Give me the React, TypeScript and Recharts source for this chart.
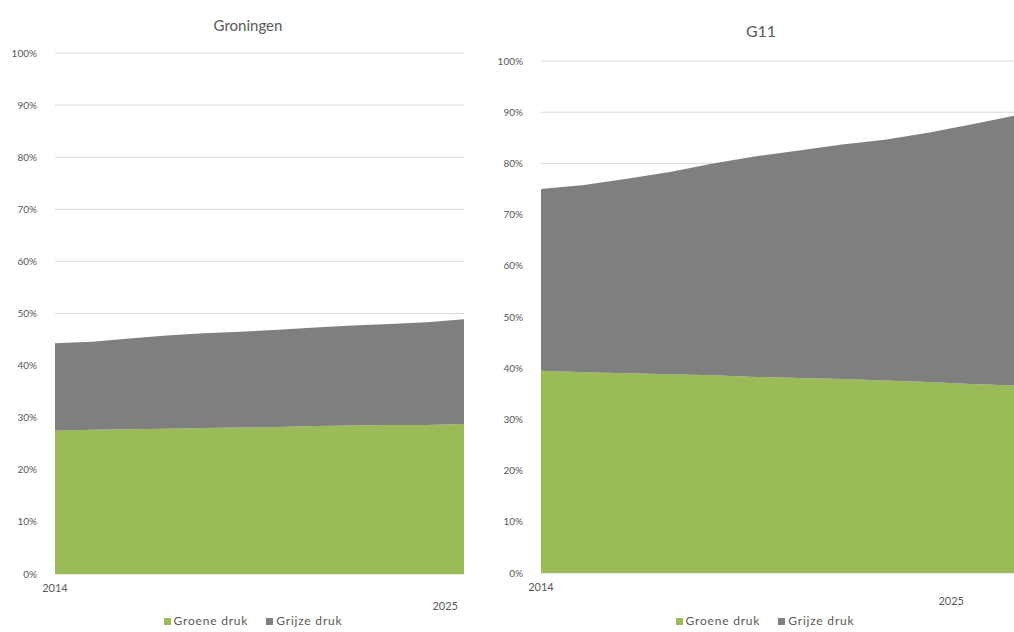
import { AreaChart, Area, XAxis, YAxis, CartesianGrid } from "recharts"

const years = [2014, 2015, 2016, 2017, 2018, 2019, 2020, 2021, 2022, 2023, 2024, 2025]

// Groningen
const groningenGroen = [27.5, 27.7, 27.8, 27.9, 28.0, 28.1, 28.2, 28.4, 28.5, 28.6, 28.6, 28.8]
const groningenGrijs = [16.8, 16.9, 17.4, 17.9, 18.2, 18.4, 18.7, 18.9, 19.2, 19.4, 19.7, 20.1]

// G11
const g11Groen = [39.5, 39.2, 39.0, 38.8, 38.6, 38.3, 38.1, 37.9, 37.6, 37.3, 36.9, 36.6]
const g11Grijs = [35.5, 36.6, 38.0, 39.5, 41.4, 43.1, 44.4, 45.8, 47.0, 48.7, 50.7, 52.7]

const yTicks = [0, 10, 20, 30, 40, 50, 60, 70, 80, 90, 100]
const xTicks = [2014, 2025]
const seriesNames = ["Groene druk", "Grijze druk"]

const GREEN = "#9bbb59"
const GREY = "#7f7f7f"
const TEXT = "#595959"
const FONT = "Lato, 'Open Sans', sans-serif"

const build = (groen: number[], grijs: number[]) =>
  years.map((year, i) => ({ year, groen: groen[i], grijs: grijs[i] }))

function YearTick(props: any) {
  const { x, y, payload, lastDx, lastDy } = props
  const isLast = payload.value === 2025
  return (
    <text
      x={isLast ? x + lastDx : x}
      y={isLast ? y + lastDy : y + 10}
      textAnchor={isLast ? "end" : "middle"}
      fill={TEXT}
      fontSize={11}
      fontFamily={FONT}
    >
      {payload.value}
    </text>
  )
}

function LegendBox({ left }: { left: number }) {
  return (
    <div
      style={{
        position: "absolute", left, top: 614, width: 220, display: "flex", justifyContent: "center",
        gap: 18, fontFamily: FONT, fontSize: 12, letterSpacing: 0.8, color: TEXT, lineHeight: "14px",
      }}
    >
      {seriesNames.map((n, i) => (
        <span key={n} style={{ display: "flex", alignItems: "center" }}>
          <span style={{ width: 7, height: 7, background: i === 0 ? GREEN : GREY, marginRight: 3, display: "inline-block" }} />
          {n}
        </span>
      ))}
    </div>
  )
}

interface PanelProps {
  title: string
  data: { year: number; groen: number; grijs: number }[]
  left: number
  width: number
  marginTop: number
  axisHeight: number
  marginRight: number
  titleX: number
  titleY: number
  titleSize: number
  lastDx: number
  lastDy: number
  legendLeft: number
}

function Panel(p: PanelProps) {
  return (
    <div style={{ position: "absolute", left: p.left, top: 0, width: p.width, height: 632 }}>
      <div
        style={{
          position: "absolute", left: p.titleX - p.left - 100, top: p.titleY - 10, width: 200,
          textAlign: "center", fontFamily: FONT, fontSize: p.titleSize, color: TEXT, lineHeight: "20px",
        }}
      >
        {p.title}
      </div>
      <AreaChart
        width={p.width}
        height={632}
        data={p.data}
        margin={{ top: p.marginTop, right: p.marginRight, left: 0, bottom: 0 }}
      >
        <CartesianGrid vertical={false} stroke="#d9d9d9" />
        <XAxis
          dataKey="year"
          type="number"
          domain={[2014, 2025]}
          ticks={xTicks}
          axisLine={false}
          tickLine={false}
          height={p.axisHeight}
          tick={<YearTick lastDx={p.lastDx} lastDy={p.lastDy} />}
        />
        <YAxis
          domain={[0, 100]}
          ticks={yTicks}
          tickFormatter={(v: number) => `${v}%`}
          axisLine={false}
          tickLine={false}
          width={55}
          tickMargin={12}
          tick={{ fill: TEXT, fontSize: 10, fontFamily: FONT }}
        />
        <Area
          type="linear"
          dataKey="groen"
          name={seriesNames[0]}
          stackId="a"
          stroke="none"
          fill={GREEN}
          fillOpacity={1}
          isAnimationActive={false}
        />
        <Area
          type="linear"
          dataKey="grijs"
          name={seriesNames[1]}
          stackId="a"
          stroke="none"
          fill={GREY}
          fillOpacity={1}
          isAnimationActive={false}
        />
      </AreaChart>
      <LegendBox left={p.legendLeft} />
    </div>
  )
}

export default function App() {
  return (
    <div style={{ position: "absolute", left: 0, top: 0, width: 1014, height: 632, overflow: "hidden", background: "#fff" }}>
      <Panel
        title="Groningen"
        data={build(groningenGroen, groningenGrijs)}
        left={0}
        width={480}
        marginTop={53}
        axisHeight={58}
        marginRight={16}
        titleX={248}
        titleY={25}
        titleSize={15}
        lastDx={-6}
        lastDy={28}
        legendLeft={143}
      />
      <Panel
        title="G11"
        data={build(g11Groen, g11Grijs)}
        left={486}
        width={528}
        marginTop={61}
        axisHeight={59}
        marginRight={0}
        titleX={761}
        titleY={31}
        titleSize={16}
        lastDx={-34}
        lastDy={24}
        legendLeft={655 - 486}
      />
    </div>
  )
}
